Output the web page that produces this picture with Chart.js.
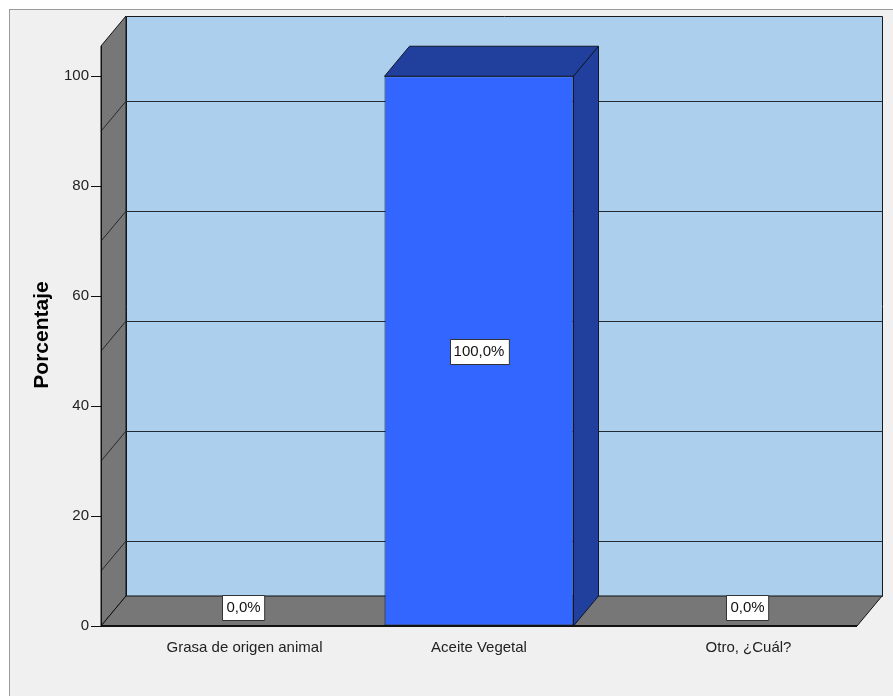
<!DOCTYPE html>
<html>
<head>
<meta charset="utf-8">
<script src="https://cdn.jsdelivr.net/npm/chart.js@4.4.1/dist/chart.umd.min.js"></script>
<style>
  html, body { margin: 0; padding: 0; background: #ffffff; }
  canvas { display: block; }
</style>
</head>
<body>
<canvas id="chart" width="893" height="696"></canvas>
<script>
// Categories and their percentages
const categories = ['Grasa de origen animal', 'Aceite Vegetal', 'Otro, ¿Cuál?'];
const percentages = [0, 100, 0];
// Y axis tick values and the lines drawn on the back wall
const yTickValues = [0, 20, 40, 60, 80, 100];
const wallLineValues = [10, 30, 50, 70, 90];
const axisTitle = 'Porcentaje';

const FONT = '"Liberation Sans", Arial, sans-serif';
const DX = 25;   // depth offset, horizontal
const DY = 30;   // depth offset, vertical

function fmt(v) {
  return v.toFixed(1).replace('.', ',') + '%';
}

function labelBox(ctx, text, cx, cy) {
  ctx.font = '15px ' + FONT;
  const w = ctx.measureText(text).width + 8;
  const h = 25;
  const x = Math.round(cx - w / 2) + 0.5;
  const y = Math.round(cy - h / 2) + 0.5;
  ctx.fillStyle = '#ffffff';
  ctx.strokeStyle = '#333333';
  ctx.lineWidth = 1;
  ctx.fillRect(x, y, w, h);
  ctx.strokeRect(x, y, w, h);
  ctx.fillStyle = '#111111';
  ctx.textAlign = 'center';
  ctx.textBaseline = 'middle';
  ctx.fillText(text, cx, cy + 1);
}

const scene3d = {
  id: 'scene3d',
  beforeDraw(chart) {
    const ctx = chart.ctx;
    ctx.save();
    ctx.fillStyle = '#ffffff';
    ctx.fillRect(0, 0, chart.width, chart.height);
    ctx.fillStyle = '#f0f0f0';
    ctx.fillRect(9.5, 9.5, 900, 720);
    ctx.strokeStyle = '#9a9a9a';
    ctx.lineWidth = 1;
    ctx.strokeRect(9.5, 9.5, 900, 720);

    // rotated axis title
    ctx.translate(42, 335);
    ctx.rotate(-Math.PI / 2);
    ctx.font = 'bold 21px ' + FONT;
    ctx.fillStyle = '#000000';
    ctx.textAlign = 'center';
    ctx.textBaseline = 'middle';
    ctx.fillText(axisTitle, 0, 0);
    ctx.restore();
  },
  beforeDatasetsDraw(chart) {
    const ctx = chart.ctx;
    const a = chart.chartArea;
    const ys = chart.scales.y;
    const L = a.left, R = a.right, T = a.top, B = a.bottom;
    ctx.save();
    ctx.lineWidth = 1;
    ctx.lineJoin = 'round';

    // back wall
    ctx.fillStyle = '#abcfed';
    ctx.fillRect(L + DX, T - DY, R - L, B - T);
    ctx.strokeStyle = '#1a1a1a';
    ctx.strokeRect(L + DX + 0.5, T - DY + 0.5, R - L, B - T);

    // side wall
    ctx.beginPath();
    ctx.moveTo(L, B);
    ctx.lineTo(L, T);
    ctx.lineTo(L + DX, T - DY);
    ctx.lineTo(L + DX, B - DY);
    ctx.closePath();
    ctx.fillStyle = '#777777';
    ctx.fill();
    ctx.strokeStyle = '#111111';
    ctx.stroke();

    // floor
    ctx.beginPath();
    ctx.moveTo(L, B);
    ctx.lineTo(R, B);
    ctx.lineTo(R + DX, B - DY);
    ctx.lineTo(L + DX, B - DY);
    ctx.closePath();
    ctx.fillStyle = '#777777';
    ctx.fill();
    ctx.strokeStyle = '#111111';
    ctx.stroke();
    ctx.lineWidth = 2;
    ctx.beginPath();
    ctx.moveTo(L, B);
    ctx.lineTo(R, B);
    ctx.stroke();
    ctx.lineWidth = 1;

    // wall lines
    ctx.strokeStyle = '#252a30';
    wallLineValues.forEach(v => {
      const yf = ys.getPixelForValue(v);
      const yb = Math.round(yf - DY) + 0.5;
      ctx.beginPath();
      ctx.moveTo(L + DX, yb);
      ctx.lineTo(R + DX, yb);
      ctx.stroke();
      ctx.beginPath();
      ctx.moveTo(L, yf);
      ctx.lineTo(L + DX, yf - DY);
      ctx.stroke();
    });

    // left wall front edge
    ctx.strokeStyle = '#111111';
    ctx.beginPath();
    ctx.moveTo(L + 0.5, B);
    ctx.lineTo(L + 0.5, T);
    ctx.stroke();
    ctx.restore();
  },
  afterDatasetsDraw(chart) {
    const ctx = chart.ctx;
    const ys = chart.scales.y;
    const xs = chart.scales.x;
    const meta = chart.getDatasetMeta(0);
    const B = chart.chartArea.bottom;
    ctx.save();
    ctx.lineWidth = 1;
    ctx.lineJoin = 'round';
    meta.data.forEach((bar, i) => {
      const v = percentages[i];
      if (v <= 0) return;
      const half = bar.width / 2;
      const x0 = bar.x - half, x1 = bar.x + half, yt = bar.y;
      // top face
      ctx.beginPath();
      ctx.moveTo(x0, yt);
      ctx.lineTo(x0 + DX, yt - DY);
      ctx.lineTo(x1 + DX, yt - DY);
      ctx.lineTo(x1, yt);
      ctx.closePath();
      ctx.fillStyle = '#213f9c';
      ctx.fill();
      ctx.strokeStyle = '#101828';
      ctx.stroke();
      // side face
      ctx.beginPath();
      ctx.moveTo(x1, yt);
      ctx.lineTo(x1 + DX, yt - DY);
      ctx.lineTo(x1 + DX, B - DY);
      ctx.lineTo(x1, B);
      ctx.closePath();
      ctx.fillStyle = '#213f9c';
      ctx.fill();
      ctx.stroke();
    });

    // value labels
    meta.data.forEach((bar, i) => {
      const v = percentages[i];
      if (v > 0) {
        labelBox(ctx, fmt(v), bar.x, ys.getPixelForValue(v / 2));
      } else {
        labelBox(ctx, fmt(v), bar.x + DX / 2 + 4, B - DY / 2 - 4);
      }
    });

    // category labels
    ctx.font = '15px ' + FONT;
    ctx.fillStyle = '#222222';
    ctx.textAlign = 'center';
    ctx.textBaseline = 'middle';
    categories.forEach((c, i) => {
      const off = percentages[i] > 0 ? 0 : DX / 2 + 5;
      ctx.fillText(c, xs.getPixelForValue(i) + off, B + 22);
    });
    ctx.restore();
  }
};

new Chart(document.getElementById('chart'), {
  type: 'bar',
  data: {
    labels: categories,
    datasets: [{
      data: percentages,
      backgroundColor: '#3366ff',
      borderColor: '#101828',
      borderWidth: ctx => (percentages[ctx.dataIndex] > 0 ? 1 : 0),
      borderSkipped: false,
      categoryPercentage: 1,
      barPercentage: 0.75
    }]
  },
  options: {
    responsive: false,
    animation: false,
    devicePixelRatio: 1,
    layout: { padding: { left: 0, right: 36, top: 46, bottom: 70 } },
    plugins: {
      legend: { display: false },
      tooltip: { enabled: false }
    },
    scales: {
      x: {
        display: false
      },
      y: {
        min: 0,
        max: 105.5,
        afterFit(scale) { scale.width = 101; },
        afterBuildTicks(scale) {
          scale.ticks = yTickValues.map(v => ({ value: v }));
        },
        border: { display: false },
        grid: {
          drawOnChartArea: false,
          drawTicks: true,
          tickLength: 10,
          color: '#111111',
          lineWidth: 1
        },
        ticks: {
          padding: 2,
          color: '#222222',
          font: { family: FONT, size: 15 }
        }
      }
    }
  },
  plugins: [scene3d]
});
</script>
</body>
</html>
